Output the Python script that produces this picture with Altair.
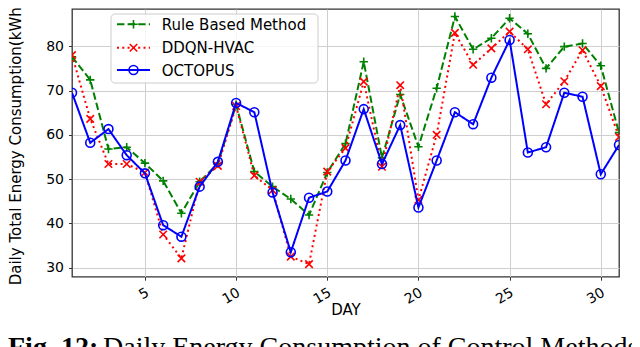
import altair as alt
import pandas as pd

# ---------------- data ----------------
days = list(range(1, 32))
rule_based = [77.6, 72.4, 56.8, 57.2, 53.6, 49.6, 42.3, 49.4, 53.5, 66.8,
              51.7, 48.3, 45.5, 41.9, 51.5, 58.0, 76.5, 54.8, 69.1, 57.3,
              70.5, 86.7, 79.3, 81.8, 86.3, 82.8, 75.0, 79.9, 80.6, 75.6, 60.5]
ddqn_hvac = [78.0, 63.6, 53.4, 53.4, 51.5, 37.5, 32.1, 49.4, 53.0, 66.5,
             50.8, 47.5, 32.5, 30.8, 51.7, 57.0, 72.0, 52.8, 71.2, 45.3,
             60.0, 83.0, 75.8, 79.5, 83.3, 79.3, 66.9, 72.1, 79.1, 71.0, 59.5]
octopus = [69.5, 58.2, 61.3, 55.4, 51.3, 39.6, 37.0, 48.3, 53.9, 67.2,
           65.1, 47.0, 33.5, 45.8, 47.2, 54.2, 65.8, 53.4, 62.2, 43.6,
           54.2, 65.1, 62.4, 72.9, 81.4, 56.0, 57.2, 69.5, 68.6, 51.1, 57.7]

series_names = ["Rule Based Method", "DDQN-HVAC", "OCTOPUS"]
series_fields = ["rule", "ddqn", "octopus"]
series_colors = ["#008000", "#ff0000", "#0000ff"]
x_ticks = [5, 10, 15, 20, 25, 30]
y_ticks = [30, 40, 50, 60, 70, 80]
x_title = "DAY"
y_title = "Daily Total Energy Consumption(kWh)"
caption_bold = "Fig. 12:"
caption_rest = "Daily Energy Consumption of Control Methods"

df = pd.DataFrame({"day": days, "rule": rule_based, "ddqn": ddqn_hvac, "octopus": octopus})

# ---------------- styling ----------------
W = 547
H = 267.7
PLUS = "M-1,0L1,0M0,-1L0,1"
CROSS = "M-1,-1L1,1M-1,1L1,-1"
styles = [
    dict(dash=[7.4, 3.2], shape=PLUS, size=70, filled=False),
    dict(dash=[2, 3.3], shape=CROSS, size=56, filled=False),
    dict(dash=[1, 0], shape="circle", size=80, filled=False),
]

x_scale = alt.Scale(domain=[1, 31], nice=False, zero=False)
y_scale = alt.Scale(domain=[27.97, 88.4], nice=False, zero=False)

x_axis = alt.Axis(values=x_ticks, title=x_title, labelAngle=330, labelAlign="right",
                  labelBaseline="top", labelFontSize=14, labelPadding=5, labelOffset=-1,
                  tickSize=3.5, tickColor="#333333", tickWidth=1, grid=True,
                  gridColor="#cfcfcf", gridWidth=1, domain=False, labelFlush=False,
                  titleFontSize=15, titleFontWeight="normal", titleY=25.5,
                  titleBaseline="top")
y_axis = alt.Axis(values=y_ticks, title=y_title, labelFontSize=14, labelPadding=5,
                  tickSize=3.5, tickColor="#333333", tickWidth=1, grid=True,
                  gridColor="#cfcfcf", gridWidth=1, domain=False, labelFlush=False,
                  titleFontSize=15, titleFontWeight="normal", titleX=-52,
                  titleBaseline="alphabetic")

layers = []
for name, field, color, st in zip(series_names, series_fields, series_colors, styles):
    line = alt.Chart(df).mark_line(color=color, strokeWidth=2, strokeDash=st["dash"], clip=True).encode(
        x=alt.X("day:Q", scale=x_scale, axis=x_axis),
        y=alt.Y(f"{field}:Q", scale=y_scale, axis=y_axis),
    )
    pts = alt.Chart(df).mark_point(shape=st["shape"], size=st["size"], filled=False,
                                   stroke=color, strokeWidth=1.6, opacity=1, clip=True).encode(
        x=alt.X("day:Q", scale=x_scale, axis=x_axis),
        y=alt.Y(f"{field}:Q", scale=y_scale, axis=y_axis),
    )
    layers += [line, pts]

# ---------------- legend (manual, matplotlib style) ----------------
one = pd.DataFrame({"k": [0]})
frame = alt.Chart(one).mark_rect(fill="white", fillOpacity=0.8, stroke="#cccccc",
                                 strokeWidth=1, cornerRadius=4).encode(
    x=alt.value(39), x2=alt.value(246), y=alt.value(5), y2=alt.value(74))
layers.append(frame)
row_y = [15.3, 38.7, 61.0]
for name, color, st, ry in zip(series_names, series_colors, styles, row_y):
    layers.append(alt.Chart(one).mark_rule(color=color, strokeWidth=2, strokeDash=st["dash"]).encode(
        x=alt.value(45), x2=alt.value(78), y=alt.value(ry)))
    layers.append(alt.Chart(one).mark_point(shape=st["shape"], size=st["size"], filled=False,
                                            stroke=color, strokeWidth=1.6, opacity=1).encode(
        x=alt.value(61.5), y=alt.value(ry)))
    layers.append(alt.Chart(one).mark_text(text=name, align="left", baseline="middle",
                                           font="DejaVu Sans", fontSize=15, color="black").encode(
        x=alt.value(89.7), y=alt.value(ry + 0.5)))

# ---------------- caption ----------------
layers.append(alt.Chart(one).mark_text(text=caption_bold, align="left", baseline="alphabetic",
                                       font="Liberation Serif", fontSize=28, fontWeight="bold",
                                       color="black").encode(x=alt.value(-64), y=alt.value(346.5)))
layers.append(alt.Chart(one).mark_text(text=caption_rest, align="left", baseline="alphabetic",
                                       font="Liberation Serif", fontSize=28, color="black").encode(
    x=alt.value(31), y=alt.value(346.5)))

chart = alt.layer(*layers).properties(
    width=W, height=H, autosize="none",
    padding={"left": 64, "top": 1, "right": 13, "bottom": 70.3},
).configure_view(stroke="#333333", strokeWidth=1.3).configure_axis(
    labelFont="DejaVu Sans", titleFont="DejaVu Sans", labelColor="black", titleColor="black"
)

chart.save("out.html", embed_options={"renderer": "svg", "actions": False})
